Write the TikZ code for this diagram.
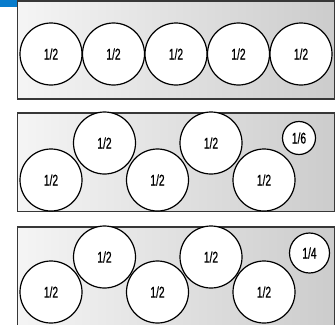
\documentclass[tikz,border=0pt]{standalone}
\usepackage{fontspec}
\newfontfamily\condfont[FakeStretch=0.66,FakeBold=0.6]{Liberation Sans}
\definecolor{tabblue}{RGB}{8,124,204}
\definecolor{edgegray}{RGB}{55,55,55}
\tikzset{
  panel/.style={draw=edgegray, line width=1.3pt, left color=gray!8, right color=gray!40, shading angle=90},
  big/.style={circle, draw=black, line width=1.2pt, fill=white, minimum size=62pt, inner sep=0pt, font=\condfont\fontsize{15.5}{15.5}\selectfont},
  small/.style={big, minimum size=#1},
}
\begin{document}
\begin{tikzpicture}[x=1pt,y=-1pt]
\useasboundingbox (0,0) rectangle (336,324);
\clip (0,0) rectangle (336,324);
\fill[tabblue] (0,0) rectangle (18,7);
% panel 1
\shade[panel] (17.5,1) rectangle (334.5,99);
\foreach \i/\x in {1/51,2/113.5,3/176,4/238.5,5/301}
  \node[big] (a\i) at (\x,54) {1/2};
% panel 2
\shade[panel] (17.5,113) rectangle (334.5,211.5);
\node[big] (b1) at (51,180) {1/2};
\node[big] (b2) at (104.5,143) {1/2};
\node[big] (b3) at (157.5,180) {1/2};
\node[big] (b4) at (211,143) {1/2};
\node[big] (b5) at (264,180) {1/2};
\node[small=33pt] (b6) at (299,138) {1/6};
% panel 3
\shade[panel] (17.5,227) rectangle (334.5,326);
\node[big] (c1) at (51,292) {1/2};
\node[big] (c2) at (104.5,257) {1/2};
\node[big] (c3) at (157.5,292) {1/2};
\node[big] (c4) at (211,257) {1/2};
\node[big] (c5) at (264,292) {1/2};
\node[small=40pt] (c6) at (309.5,253) {1/4};
\end{tikzpicture}
\end{document}
